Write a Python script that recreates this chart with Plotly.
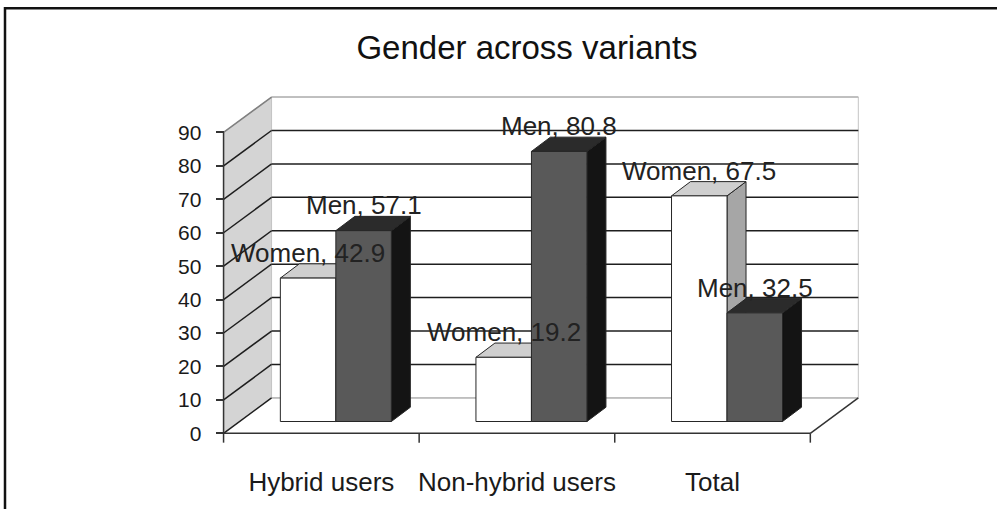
import plotly.graph_objects as go

# ---- data ----
categories = ["Hybrid users", "Non-hybrid users", "Total"]
series_names = ["Women", "Men"]
women = [42.9, 19.2, 67.5]
men = [57.1, 80.8, 32.5]
y_ticks = [0, 10, 20, 30, 40, 50, 60, 70, 80, 90]
title_text = "Gender across variants"

# ---- geometry (axis units) ----
W_PX, H_PX = 997, 509
ML, MR, MT, MB = 204, 128, 89, 58
XR = [-0.6, 2.8]
YR = [-3.5, 103]
ppx = (W_PX - ML - MR) / (XR[1] - XR[0])
ppy = (H_PX - MT - MB) / (YR[1] - YR[0])

DX, DY = 48 / ppx, 36 / ppy             # full depth of floor / walls
OX, OY = 14.5 / ppx, 12 / ppy           # bar plane offset
TX, TY = 19 / ppx, 14.5 / ppy           # bar depth
BW = 55.5 / ppx                         # bar width
YMAX = y_ticks[-1]
x_left, x_right = -0.5, len(categories) - 0.5

FONT = "Arial, Liberation Sans, sans-serif"
face_colors = {
    "Women": {"front": "#ffffff", "top": "#cfcfcf", "side": "#a6a6a6"},
    "Men": {"front": "#595959", "top": "#2b2b2b", "side": "#141414"},
}
edge = "#262626"

fig = go.Figure()
shapes = []

def path(pts):
    return "M " + " L ".join(f"{x},{y}" for x, y in pts) + " Z"

# side wall
shapes.append(dict(type="path", xref="x", yref="y", layer="below",
                   path=path([(x_left, 0), (x_left, YMAX), (x_left + DX, YMAX + DY), (x_left + DX, DY)]),
                   fillcolor="#d4d4d4", line=dict(color="#bdbdbd", width=1)))
# back wall
shapes.append(dict(type="path", xref="x", yref="y", layer="below",
                   path=path([(x_left + DX, DY), (x_right + DX, DY), (x_right + DX, YMAX + DY), (x_left + DX, YMAX + DY)]),
                   fillcolor="#ffffff", line=dict(color="#c4c4c4", width=1)))
# floor
shapes.append(dict(type="path", xref="x", yref="y", layer="below",
                   path=path([(x_left, 0), (x_right, 0), (x_right + DX, DY), (x_left + DX, DY)]),
                   fillcolor="#ffffff", line=dict(width=0)))
# gridlines
for v in y_ticks:
    back_col = "#1e1e1e" if 0 < v < YMAX else "#b5b5b5"
    shapes.append(dict(type="line", xref="x", yref="y", layer="below",
                       x0=x_left + DX, x1=x_right + DX, y0=v + DY, y1=v + DY,
                       line=dict(color=back_col, width=1.5)))
    shapes.append(dict(type="line", xref="x", yref="y", layer="below",
                       x0=x_left, x1=x_left + DX, y0=v, y1=v + DY,
                       line=dict(color="#1e1e1e" if v < YMAX else "#808080", width=1.5)))
# front axis line, floor front and right edges
shapes.append(dict(type="line", xref="x", yref="y", x0=x_left, x1=x_left, y0=0, y1=YMAX,
                   line=dict(color="#333333", width=1.5)))
shapes.append(dict(type="line", xref="x", yref="y", x0=x_left, x1=x_right, y0=0, y1=0,
                   line=dict(color="#333333", width=1.5)))
shapes.append(dict(type="line", xref="x", yref="y", x0=x_right, x1=x_right + DX, y0=0, y1=DY,
                   line=dict(color="#333333", width=1.5)))
# category tick marks
for k in range(len(categories) + 1):
    xb = x_left + k
    shapes.append(dict(type="line", xref="x", yref="y", x0=xb, x1=xb, y0=0, y1=-2.8,
                       line=dict(color="#333333", width=1.5)))

# bars (faces)
def add_face(pts, color):
    xs = [p[0] for p in pts] + [pts[0][0]]
    ys = [p[1] for p in pts] + [pts[0][1]]
    fig.add_trace(go.Scatter(x=xs, y=ys, mode="lines", fill="toself", fillcolor=color,
                             line=dict(color=edge, width=1), hoverinfo="skip", showlegend=False))

annotations = []
for i, cat in enumerate(categories):
    for name, vals, x0 in (("Women", women, i + OX - BW), ("Men", men, i + OX)):
        v = vals[i]
        x1 = x0 + BW
        top = OY + v
        c = face_colors[name]
        add_face([(x1, OY), (x1, top), (x1 + TX, top + TY), (x1 + TX, OY + TY)], c["side"])
        add_face([(x0, top), (x1, top), (x1 + TX, top + TY), (x0 + TX, top + TY)], c["top"])
        add_face([(x0, OY), (x1, OY), (x1, top), (x0, top)], c["front"])
        annotations.append(dict(x=(x0 + x1) / 2, y=top + TY, xref="x", yref="y",
                                text=f"{name}, {v}", showarrow=False, yanchor="bottom",
                                xanchor="center", yshift=-6,
                                font=dict(family=FONT, size=26, color="#222222")))

# outer frame (paper coords relative to plot area)
pw, ph = W_PX - ML - MR, H_PX - MT - MB
shapes.append(dict(type="rect", xref="paper", yref="paper",
                   x0=(5 - ML) / pw, x1=(W_PX + 10 - ML) / pw,
                   y0=(H_PX - MB - (H_PX + 10)) / ph, y1=(H_PX - MB - 7) / ph,
                   line=dict(color="#111111", width=2.5), fillcolor="rgba(0,0,0,0)", layer="below"))

fig.update_layout(
    width=W_PX, height=H_PX,
    margin=dict(l=ML, r=MR, t=MT, b=MB),
    paper_bgcolor="white", plot_bgcolor="rgba(0,0,0,0)",
    title=dict(text=title_text, x=527 / W_PX, xref="container", xanchor="center",
               y=1 - 47 / H_PX, yref="container", yanchor="middle",
               font=dict(family=FONT, size=33, color="#111111")),
    xaxis=dict(range=XR, showgrid=False, zeroline=False, showline=False,
               tickmode="array", tickvals=list(range(len(categories))), ticktext=categories,
               ticks="outside", ticklen=14, tickcolor="rgba(0,0,0,0)",
               tickfont=dict(family=FONT, size=26, color="#1a1a1a")),
    yaxis=dict(range=YR, showgrid=False, zeroline=False, showline=False,
               anchor="free", position=(x_left - XR[0]) / (XR[1] - XR[0]),
               tickmode="array", tickvals=y_ticks, ticks="outside", ticklen=8,
               tickcolor="#333333", tickwidth=1.5, ticklabelstandoff=10,
               tickfont=dict(family=FONT, size=21, color="#1a1a1a")),
    shapes=shapes,
    annotations=annotations,
)

fig.write_html("out.html", config={"displayModeBar": False},
               post_script="document.body.style.margin='0px';")
